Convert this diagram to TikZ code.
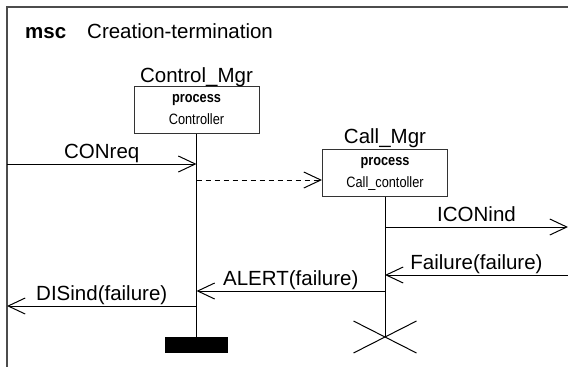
\documentclass[tikz,border=0pt]{standalone}
\usepackage{fontspec}
\setmainfont{Liberation Sans}
\newfontfamily\narrowsf[FakeStretch=0.85]{Liberation Sans}
\usetikzlibrary{arrows.meta}

\begin{document}
\begin{tikzpicture}[x=1pt,y=-1pt,font=\fontsize{20.5}{24}\selectfont]
\tikzstyle{instance} = [rectangle, draw=black!80, line width=1pt,
minimum width=125pt, minimum height=47pt, align=center, inner sep=0pt,
font=\narrowsf\fontsize{15}{22}\selectfont]
\tikzstyle{head} = [anchor=base, inner sep=0pt]
\tikzstyle{lifeline} = [draw, line width=1pt]
\tikzstyle{msg} = [draw, line width=1pt,
-{Straight Barb[length=17pt,width=16pt,line width=1pt]}]
\tikzstyle{msglabel} = [anchor=base, yshift=6pt, inner sep=0pt]
\tikzstyle{frame} = [draw=black!70, line width=1.6pt]

\useasboundingbox (0,0) rectangle (568,367);
% frame and title
\coordinate (fnw) at (7,7);
\draw[frame] (fnw |- 0,367) -- (fnw) -- (568,7);
\node[anchor=base west, inner sep=0pt,
font=\fontsize{20.5}{24}\selectfont\bfseries] (msc) at (25,38) {msc};
\node[anchor=base west, inner sep=0pt] (title) at (87,38) {Creation-termination};

% instances
\node[instance] (ctrl) at (196.5,109.5) {\strut\textbf{process}\\\strut Controller};
\node[head] (ctrlhead) at ([yshift=3pt]ctrl.north) {Control\_Mgr};
\node[instance] (call) at (385,172.5) {\strut\textbf{process}\\\strut Call\_contoller};
\node[head] (callhead) at ([yshift=5pt]call.north) {Call\_Mgr};

% ends
\coordinate (ctrlend) at (ctrl.south |- 0,337);
\node[fill=black, minimum width=63pt, minimum height=16pt, inner sep=0pt,
anchor=north] (ctrlstop) at (ctrlend) {};
\coordinate (callend) at (call.south |- 0,337);
\path[lifeline] (ctrl.south) -- (ctrlstop.north);
\path[lifeline] (call.south) -- (callend);
\draw[line width=1pt] (callend) +(-31.5,-16) -- +(31.5,16)
                      (callend) +(-31.5,16) -- +(31.5,-16);

% messages
\coordinate (conreqin) at (7,164);
\path[msg] (conreqin) -- node[msglabel] {CONreq} (ctrl.south |- conreqin);
\coordinate (create) at (ctrl.south |- 0,180);
\path[msg, dash pattern=on 5pt off 4pt] (create) -- (call.west |- create);
\coordinate (iconout) at (568,227);
\path[msg] (call.south |- iconout) -- node[msglabel] {ICONind} (iconout);
\coordinate (failin) at (568,275);
\path[msg] (failin) -- node[msglabel] {Failure(failure)} (call.south |- failin);
\coordinate (alert) at (call.south |- 0,291);
\path[msg] (alert) -- node[msglabel] {ALERT(failure)} (ctrl.south |- alert);
\coordinate (disout) at (7,306);
\path[msg] (ctrl.south |- disout) -- node[msglabel] {DISind(failure)} (disout);

\end{tikzpicture}
\end{document}
